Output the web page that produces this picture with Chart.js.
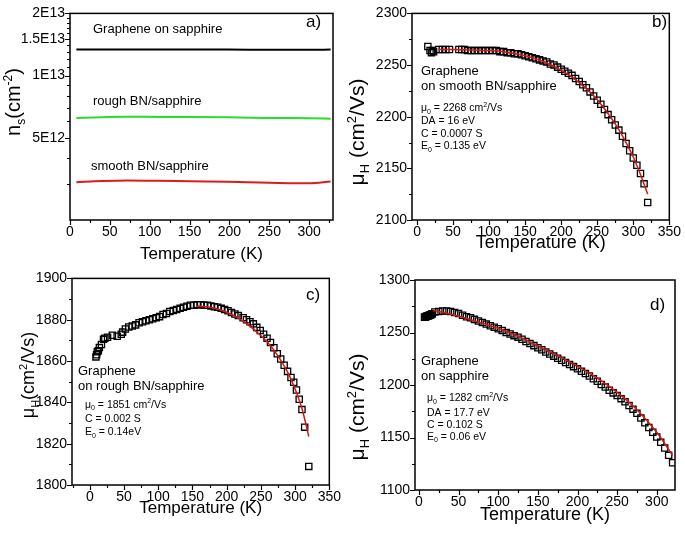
<!DOCTYPE html>
<html>
<head>
<meta charset="utf-8">
<script src="https://cdn.jsdelivr.net/npm/chart.js@4.4.0/dist/chart.umd.min.js"></script>
<style>
  body { margin: 0; background: #fff; width: 685px; height: 533px; position: relative; overflow: hidden; }
  canvas { position: absolute; }
</style>
</head>
<body>
<canvas id="chartA" width="345" height="265" style="left:0;top:0"></canvas>
<canvas id="chartB" width="340" height="265" style="left:345px;top:0"></canvas>
<canvas id="chartC" width="345" height="268" style="left:0;top:265px"></canvas>
<canvas id="chartD" width="340" height="268" style="left:345px;top:265px"></canvas>
<script>
const FONT = "'Liberation Sans', Arial, sans-serif";

// a) carrier density n_s vs temperature
const tempA = [8, 40, 72, 110, 150, 198, 250, 300, 327];
const nsSapphire = [1.336e13, 1.337e13, 1.337e13, 1.336e13, 1.336e13, 1.336e13, 1.335e13, 1.335e13, 1.336e13];
const nsRoughBN = [6.23e12, 6.29e12, 6.32e12, 6.31e12, 6.30e12, 6.28e12, 6.24e12, 6.21e12, 6.19e12];
const nsSmoothBN = [3.05e12, 3.09e12, 3.11e12, 3.10e12, 3.08e12, 3.06e12, 3.03e12, 3.01e12, 3.07e12];
const nsTicks = [5e12, 1e13, 1.5e13, 2e13];
const nsTickLabels = ["5E12", "1E13", "1.5E13", "2E13"];
const nsMinor = [3e12, 4e12, 6e12, 7e12, 8e12, 9e12, 1.1e13, 1.2e13, 1.3e13, 1.4e13, 1.6e13, 1.7e13, 1.8e13, 1.9e13];

// b) graphene on smooth BN/sapphire
const tempB = [15, 18, 20, 21, 23, 30, 35, 40, 45, 58, 62, 66, 70, 75, 80, 85, 90, 95, 100, 105, 110, 115, 120, 125, 130, 135,
  140, 145, 150, 155, 160, 165, 170, 175, 180, 185, 190, 195, 200, 205, 210, 215, 220, 225, 230, 235, 240, 245, 250, 255,
  260, 265, 270, 275, 280, 285, 290, 295, 300, 305, 310, 315, 320];
const muB = [2268, 2264, 2262, 2264, 2263, 2265, 2265, 2265, 2265, 2265, 2265, 2265, 2264, 2264, 2264, 2264, 2264, 2264, 2264, 2264,
  2264, 2263, 2263, 2262, 2262, 2261, 2261, 2260, 2259, 2258, 2257, 2256, 2255, 2254, 2253, 2251, 2250, 2248, 2246, 2244,
  2242, 2240, 2237, 2234, 2231, 2228, 2224, 2220, 2216, 2212, 2207, 2202, 2197, 2192, 2187, 2181, 2174, 2167, 2160, 2153,
  2145, 2135, 2117];
const fitTempB = [30, 50, 75, 100, 125, 150, 175, 200, 225, 250, 275, 290, 300, 310, 320];
const fitB = [2265, 2265, 2264.5, 2264, 2262.5, 2259, 2253.5, 2245, 2233, 2216.5, 2193, 2175, 2161, 2144, 2125];

// c) graphene on rough BN/sapphire
const tempC = [9, 10, 11, 12.5, 14, 17, 20, 22, 26, 33, 40, 46, 48, 52, 57, 62, 67, 72, 77, 82, 87, 92, 97, 102, 107, 112,
  117, 122, 127, 132, 137, 142, 147, 152, 157, 162, 167, 172, 177, 182, 187, 192, 197, 202, 207, 212, 217, 224, 229, 234,
  239, 244, 249, 254, 259, 264, 269, 274, 279, 284, 289, 294, 298, 302, 306, 310, 314, 320];
const muC = [1862, 1863, 1864.5, 1865, 1866.5, 1868, 1870.5, 1871, 1871.5, 1872.5, 1872, 1873, 1874, 1875.5, 1876.5, 1877,
  1877.5, 1878.5, 1879, 1879.5, 1880, 1880.5, 1881, 1881.5, 1882.5, 1883, 1884, 1884.5, 1885, 1885.5, 1886, 1886.5, 1887,
  1887, 1887.3, 1887.3, 1887, 1887, 1886.6, 1886.3, 1886, 1885.5, 1885, 1884.3, 1883.5, 1882.8, 1882, 1881, 1880, 1879,
  1878, 1876.3, 1874.8, 1873, 1871, 1869, 1866.4, 1863.5, 1861, 1858, 1855, 1852, 1849.7, 1846, 1841.5, 1836.5, 1828, 1809];
const fitTempC = [155, 170, 185, 200, 215, 230, 245, 260, 275, 290, 300, 310, 320];
const fitC = [1886.6, 1886.3, 1885.3, 1883.6, 1881.2, 1877.9, 1873.8, 1869, 1862.5, 1854, 1846.5, 1837, 1823.5];

// d) graphene on sapphire
const tempD = [7, 7.7, 8.4, 9.1, 9.8, 10.5, 11.2, 11.9, 12.6, 13.3, 14, 14.7, 15.4, 16.1, 16.8, 20, 25, 30, 35, 40, 45, 50,
  55, 60, 65, 70, 75, 80, 85, 90, 95, 100, 105, 110, 115, 120, 125, 130, 135, 140, 145, 150, 155, 160, 165, 170, 175, 180,
  185, 190, 195, 200, 205, 210, 215, 220, 225, 230, 235, 240, 245, 250, 255, 260, 265, 270, 275, 280, 285, 290, 295, 300,
  305, 310, 315, 320];
const muD = [1264.5, 1264.7, 1265, 1265.2, 1265.4, 1265.6, 1265.8, 1266, 1266.2, 1266.4, 1266.6, 1266.9, 1267.2, 1267.5,
  1267.8, 1269.5, 1270, 1270.5, 1270.5, 1270, 1269, 1268, 1266.5, 1265, 1264, 1262.5, 1261, 1259.5, 1258, 1256.5, 1255,
  1253.5, 1252, 1250, 1248.5, 1247, 1245.5, 1243.5, 1241.5, 1239.5, 1237.5, 1235.5, 1233.5, 1231.5, 1229.5, 1227.5, 1225.5,
  1223.5, 1221.5, 1219.5, 1217.5, 1215.5, 1213, 1211, 1208.5, 1206, 1203.5, 1200.5, 1198, 1195, 1192.5, 1190, 1187, 1184,
  1180.5, 1177, 1173, 1168.5, 1164, 1159.5, 1155, 1150.5, 1145.5, 1140, 1133, 1126];
const fitTempD = [18, 25, 50, 75, 100, 125, 150, 175, 200, 225, 250, 275, 300, 320];
const fitD = [1271, 1270, 1265.5, 1260, 1254, 1246.5, 1237.5, 1228, 1218, 1206.5, 1193, 1176.5, 1155, 1133];

const stepTicks = (from, to, step) => {
  const out = [];
  for (let v = from; v <= to + 1e-9; v += step) out.push(v);
  return out;
};

const pts = (xs, ys) => xs.map((x, i) => ({ x, y: ys[i] }));
const squares = (xs, ys) => ({
  data: pts(xs, ys), showLine: false, pointStyle: "rect", pointRadius: 4.4,
  pointBorderColor: "#000", pointBackgroundColor: "rgba(0,0,0,0)", pointBorderWidth: 1.3
});
const curve = (xs, ys, color, width) => ({
  data: pts(xs, ys), showLine: true, borderColor: color, borderWidth: width,
  pointRadius: 0, cubicInterpolationMode: "monotone", fill: false
});

// text with sub/superscripts: parts = [[text, ''|'sub'|'sup'], ...]
function richText(ctx, x, y, parts, size, align) {
  const small = Math.round(size * 0.62);
  let w = 0;
  parts.forEach(([t, k]) => { ctx.font = (k ? small : size) + "px " + FONT; w += ctx.measureText(t).width; });
  let cx = align === "center" ? x - w / 2 : x;
  ctx.textAlign = "left";
  ctx.textBaseline = "alphabetic";
  parts.forEach(([t, k]) => {
    ctx.font = (k ? small : size) + "px " + FONT;
    const dy = k === "sub" ? size * 0.25 : k === "sup" ? -size * 0.4 : 0;
    ctx.fillText(t, cx, y + dy);
    cx += ctx.measureText(t).width;
  });
}

function framePlugin(extra) {
  return {
    id: "frame",
    afterDraw(chart) {
      const { ctx, chartArea: a, scales: { x, y } } = chart;
      ctx.save();
      ctx.strokeStyle = "#000";
      ctx.lineWidth = 1.5;
      ctx.strokeRect(a.left, a.top, a.right - a.left, a.bottom - a.top);
      ctx.lineWidth = 1.2;
      ctx.beginPath();
      const xt = (vals, len) => vals.forEach(v => {
        const px = Math.round(x.getPixelForValue(v)) + 0.5;
        ctx.moveTo(px, a.bottom); ctx.lineTo(px, a.bottom + len);
      });
      const yt = (vals, len) => vals.forEach(v => {
        const py = Math.round(y.getPixelForValue(v)) + 0.5;
        ctx.moveTo(a.left, py); ctx.lineTo(a.left - len, py);
      });
      xt(extra.xMajor, 5); xt(extra.xMinor, 3);
      yt(extra.yMajor, 5); yt(extra.yMinor, 3);
      ctx.stroke();

      ctx.fillStyle = "#000";
      extra.notes.forEach(n => richText(ctx, n.x, n.y, n.parts, n.size, "left"));

      const t = extra.yTitle;
      ctx.save();
      ctx.translate(t.x, t.y);
      ctx.rotate(-Math.PI / 2);
      richText(ctx, 0, 0, t.parts, t.size, "center");
      ctx.restore();
      ctx.restore();
    }
  };
}

function makeChart(id, cfg) {
  new Chart(document.getElementById(id), {
    type: "scatter",
    data: { datasets: cfg.datasets },
    options: {
      responsive: false,
      animation: false,
      events: [],
      layout: { padding: { top: cfg.box.top, right: cfg.box.right, left: 0, bottom: 0 } },
      plugins: { legend: { display: false }, tooltip: { enabled: false } },
      scales: {
        x: {
          type: "linear", min: cfg.xRange[0], max: cfg.xRange[1],
          afterBuildTicks: s => { s.ticks = cfg.xMajor.map(v => ({ value: v })); },
          afterFit: s => { s.height = cfg.box.xHeight; },
          grid: { display: false, drawTicks: false }, border: { display: false },
          ticks: {
            color: "#000", font: { size: 14, family: FONT }, padding: 4,
            maxRotation: 0, autoSkip: false, callback: v => String(v)
          },
          title: {
            display: true, text: "Temperature (K)", color: "#000",
            font: { size: cfg.xTitle.size, family: FONT }, padding: { top: 0, bottom: cfg.xTitle.pad }
          }
        },
        y: {
          type: cfg.yType || "linear", min: cfg.yRange[0], max: cfg.yRange[1],
          afterBuildTicks: s => { s.ticks = cfg.yMajor.map(v => ({ value: v })); },
          afterFit: s => { s.width = cfg.box.yWidth; },
          grid: { display: false, drawTicks: false }, border: { display: false },
          ticks: {
            color: "#000", font: { size: 14, family: FONT }, padding: 5, autoSkip: false,
            callback: v => cfg.yLabels ? cfg.yLabels[cfg.yMajor.indexOf(v)] : String(v)
          }
        }
      }
    },
    plugins: [framePlugin(cfg)]
  });
}

const paramPart = (a, b) => [[a, ""], [b, "sub"]];

makeChart("chartA", {
  xRange: [0, 330], yRange: [2e12, 2e13], yType: "logarithmic",
  xMajor: stepTicks(0, 300, 50), xMinor: stepTicks(25, 325, 50),
  yMajor: nsTicks, yLabels: nsTickLabels, yMinor: nsMinor,
  box: { yWidth: 70, xHeight: 45, top: 6, right: 12 },
  xTitle: { size: 17, pad: 0 },
  datasets: [
    curve(tempA, nsSapphire, "#000000", 2),
    curve(tempA, nsRoughBN, "#2bdc2b", 2),
    curve(tempA, nsSmoothBN, "#dc1c1c", 2)
  ],
  notes: [
    { x: 93, y: 33, size: 13, parts: [["Graphene on sapphire", ""]] },
    { x: 93, y: 105, size: 13, parts: [["rough BN/sapphire", ""]] },
    { x: 91, y: 170, size: 13, parts: [["smooth BN/sapphire", ""]] },
    { x: 306, y: 27, size: 17, parts: [["a)", ""]] }
  ],
  yTitle: { x: 20, y: 102, size: 20, parts: [["n", ""], ["s", "sub"], ["(cm", ""], ["-2", "sup"], [")", ""]] }
});

makeChart("chartB", {
  xRange: [-7, 350], yRange: [2100, 2300],
  xMajor: stepTicks(0, 350, 50), xMinor: stepTicks(25, 325, 50),
  yMajor: stepTicks(2100, 2300, 50), yMinor: stepTicks(2125, 2275, 50),
  box: { yWidth: 67, xHeight: 45, top: 8, right: 12 },
  xTitle: { size: 18, pad: 11 },
  datasets: [
    curve(fitTempB, fitB, "#dc1414", 1.5),
    squares(tempB, muB)
  ],
  notes: [
    { x: 307, y: 27, size: 17, parts: [["b)", ""]] },
    { x: 76, y: 74.5, size: 13, parts: [["Graphene", ""]] },
    { x: 76, y: 89.5, size: 13, parts: [["on smooth BN/sapphire", ""]] },
    { x: 76, y: 111, size: 10.5, parts: [...paramPart("μ", "0"), [" = 2268 cm", ""], ["2", "sup"], ["/Vs", ""]] },
    { x: 76, y: 124, size: 10.5, parts: [["DA = 16 eV", ""]] },
    { x: 76, y: 136.7, size: 10.5, parts: [["C = 0.0007 S", ""]] },
    { x: 76, y: 149.4, size: 10.5, parts: [...paramPart("E", "0"), [" = 0.135 eV", ""]] }
  ],
  yTitle: { x: 19, y: 132, size: 21, parts: [["μ", ""], ["H", "sub"], [" (cm", ""], ["2", "sup"], ["/Vs)", ""]] }
});

makeChart("chartC", {
  xRange: [-26, 350], yRange: [1800, 1900],
  xMajor: stepTicks(0, 350, 50), xMinor: stepTicks(-25, 325, 50),
  yMajor: stepTicks(1800, 1900, 20), yMinor: stepTicks(1810, 1890, 20),
  box: { yWidth: 72, xHeight: 48, top: 7, right: 12 },
  xTitle: { size: 17, pad: 14.6 },
  datasets: [
    curve(fitTempC, fitC, "#dc1414", 1.5),
    squares(tempC, muC)
  ],
  notes: [
    { x: 306, y: 35, size: 17, parts: [["c)", ""]] },
    { x: 78, y: 110, size: 13, parts: [["Graphene", ""]] },
    { x: 78, y: 125, size: 13, parts: [["on rough BN/sapphire", ""]] },
    { x: 85, y: 142.5, size: 10.5, parts: [...paramPart("μ", "0"), [" = 1851 cm", ""], ["2", "sup"], ["/Vs", ""]] },
    { x: 85, y: 156.5, size: 10.5, parts: [["C = 0.002 S", ""]] },
    { x: 85, y: 170, size: 10.5, parts: [...paramPart("E", "0"), [" = 0.14eV", ""]] }
  ],
  yTitle: { x: 34, y: 110, size: 18, parts: [["μ", ""], ["H", "sub"], ["(cm", ""], ["2", "sup"], ["/Vs)", ""]] }
});

makeChart("chartD", {
  xRange: [-5, 323], yRange: [1100, 1300],
  xMajor: stepTicks(0, 300, 50), xMinor: stepTicks(25, 275, 50),
  yMajor: stepTicks(1100, 1300, 50), yMinor: stepTicks(1125, 1275, 50),
  box: { yWidth: 70, xHeight: 43, top: 15, right: 10 },
  xTitle: { size: 18, pad: 7 },
  datasets: [
    curve(fitTempD, fitD, "#dc1414", 1.5),
    squares(tempD, muD)
  ],
  notes: [
    { x: 305, y: 45, size: 17, parts: [["d)", ""]] },
    { x: 76, y: 99.7, size: 13, parts: [["Graphene", ""]] },
    { x: 76, y: 115.4, size: 13, parts: [["on sapphire", ""]] },
    { x: 82, y: 136, size: 10.5, parts: [...paramPart("μ", "0"), [" = 1282 cm", ""], ["2", "sup"], ["/Vs", ""]] },
    { x: 82, y: 150.5, size: 10.5, parts: [["DA = 17.7 eV", ""]] },
    { x: 82, y: 162.8, size: 10.5, parts: [["C = 0.102 S", ""]] },
    { x: 82, y: 174.8, size: 10.5, parts: [...paramPart("E", "0"), [" = 0.06 eV", ""]] }
  ],
  yTitle: { x: 19, y: 142, size: 21, parts: [["μ", ""], ["H", "sub"], [" (cm", ""], ["2", "sup"], ["/Vs)", ""]] }
});
</script>
</body>
</html>
